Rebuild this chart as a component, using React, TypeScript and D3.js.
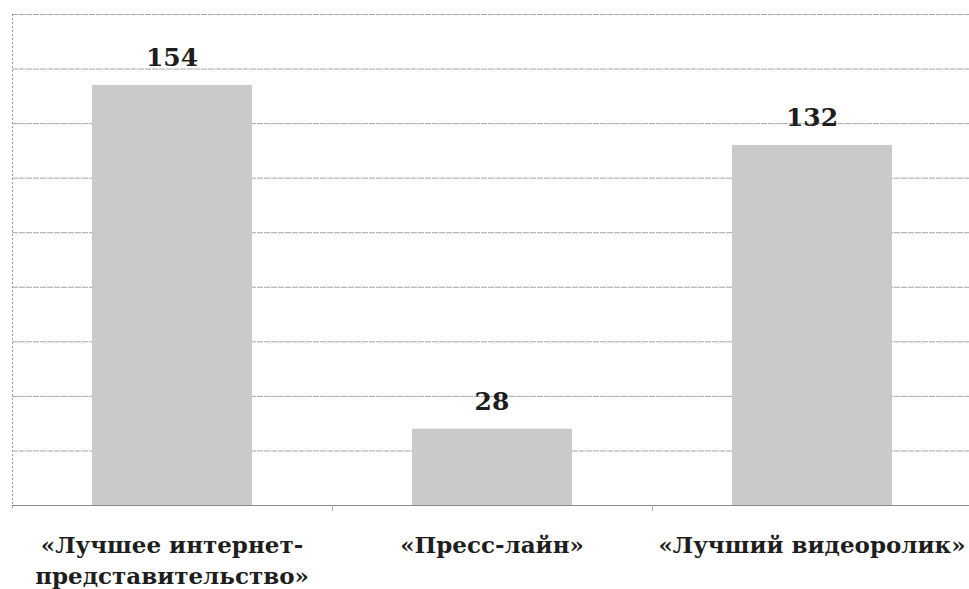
import * as d3 from "d3";
import React, {useEffect, useRef} from "react";

const categories = [
  "«Лучшее интернет-|представительство»",
  "«Пресс-лайн»",
  "«Лучший видеоролик»",
];
const values = [154, 28, 132];
const yTicks = [0, 20, 40, 60, 80, 100, 120, 140, 160, 180];

const FONT = "'DejaVu Serif', serif";

const App: React.FC = () => {
  const ref = useRef<SVGSVGElement | null>(null);

  useEffect(() => {
    const width = 969;
    const height = 589;
    const margin = { top: 14, right: -3, bottom: 84, left: 12 };
    const svg = d3.select(ref.current);
    svg.selectAll('*').remove();
    svg.attr('width', width).attr('height', height);

    const xScale = d3
      .scaleBand()
      .domain(categories)
      .range([margin.left, width - margin.right])
      .paddingInner(0.5)
      .paddingOuter(0.25);

    const yScale = d3
      .scaleLinear()
      .domain([0, 180])
      .range([height - margin.bottom, margin.top]);

    const base = yScale(0);

    // grid lines
    svg.append('g')
      .selectAll('line')
      .data(yTicks)
      .enter()
      .append('line')
      .attr('x1', margin.left)
      .attr('x2', width)
      .attr('y1', (d) => yScale(d) + 0.5)
      .attr('y2', (d) => yScale(d) + 0.5)
      .attr('stroke', (d) => d === 0 ? '#8a8a8a' : '#a6a6a6')
      .attr('stroke-width', 1)
      .attr('stroke-dasharray', (d) => d === 0 ? null : '6,1');

    // left axis (dotted)
    svg.append('line')
      .attr('x1', margin.left + 0.5)
      .attr('x2', margin.left + 0.5)
      .attr('y1', yScale(180))
      .attr('y2', base + 4)
      .attr('stroke', '#9a9a9a')
      .attr('stroke-dasharray', '2,2');

    // category separator ticks
    const sepX = categories.map((c) => (xScale(c) as number) - xScale.bandwidth() / 2);
    svg.append('g')
      .selectAll('line')
      .data(sepX.slice(1))
      .enter()
      .append('line')
      .attr('x1', (d) => d + 0.5)
      .attr('x2', (d) => d + 0.5)
      .attr('y1', base)
      .attr('y2', base + 6)
      .attr('stroke', '#b0b0b0');

    // bars
    const barGroups = svg
      .selectAll('.bar-group')
      .data(categories)
      .enter()
      .append('g')
      .attr('class', 'bar-group')
      .attr('transform', (d) => `translate(${xScale(d)}, 0)`);

    barGroups
      .append('rect')
      .attr('y', (d, i) => yScale(values[i]))
      .attr('width', xScale.bandwidth())
      .attr('height', (d, i) => base - yScale(values[i]))
      .attr('fill', '#cacaca');

    barGroups
      .append('text')
      .attr('x', xScale.bandwidth() / 2)
      .attr('y', (d, i) => yScale(values[i]) - 19)
      .attr('text-anchor', 'middle')
      .attr('fill', '#1e1e1e')
      .attr('font-family', FONT)
      .attr('font-weight', 'bold')
      .attr('font-size', 25)
      .text((d, i) => values[i]);

    // category labels
    const labels = barGroups
      .append('text')
      .attr('text-anchor', 'middle')
      .attr('fill', '#1e1e1e')
      .attr('font-family', FONT)
      .attr('font-weight', 'bold')
      .attr('font-size', 23);

    labels.each(function (d) {
      const lines = d.split('|');
      const t = d3.select(this);
      lines.forEach((line, j) => {
        t.append('tspan')
          .attr('x', xScale.bandwidth() / 2)
          .attr('y', base + 48 + j * 31)
          .text(line);
      });
    });

    return () => {
      svg.selectAll('*').remove();
    };
  }, []);

  return (
    <svg
      ref={ref}
      style={{ position: 'absolute', left: 0, top: 0, background: '#fff' }}
    />
  );
};

export default App;
